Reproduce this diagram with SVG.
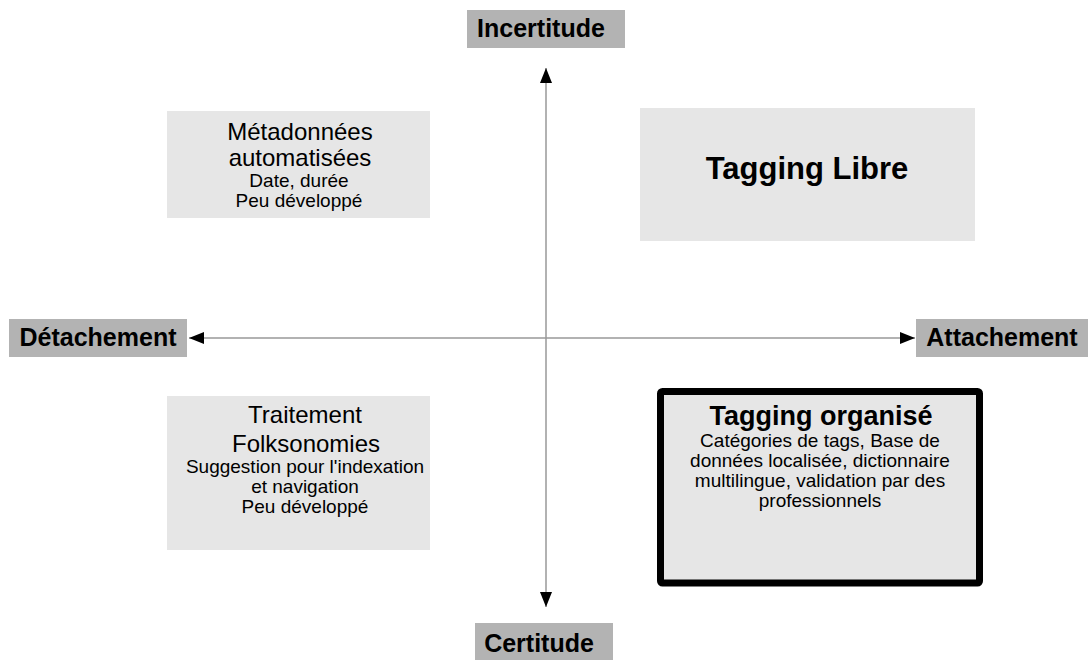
<svg xmlns="http://www.w3.org/2000/svg" width="1088" height="660" viewBox="0 0 1088 660">
<style>
text{font-family:"Liberation Sans",Arial,sans-serif;fill:#000;text-anchor:middle}
.lbl{fill:#b3b3b3}
.box{fill:#e6e6e6}
.ax{font-size:25px;font-weight:bold}
.t{font-size:24px}
.s{font-size:19px}
.axis{stroke:#999;stroke-width:1.5;fill:none}
</style>
<defs>
<marker id="ah" viewBox="0 0 10 10" refX="10" refY="5" markerWidth="15" markerHeight="15" markerUnits="userSpaceOnUse" orient="auto"><path d="M0,1 L10,5 L0,9 z" fill="#000"/></marker>
</defs>
<rect width="1088" height="660" fill="#fff"/>
<g id="connectors">
<line class="axis" x1="546" y1="338" x2="546" y2="68" marker-end="url(#ah)"/>
<line class="axis" x1="546" y1="338" x2="546" y2="607" marker-end="url(#ah)"/>
<line class="axis" x1="546" y1="338" x2="189" y2="338" marker-end="url(#ah)"/>
<line class="axis" x1="546" y1="338" x2="915" y2="338" marker-end="url(#ah)"/>
</g>
<g id="incertitude"><rect class="lbl" x="467" y="10" width="158" height="38"/><text class="ax" x="541" y="37">Incertitude</text></g>
<g id="certitude"><rect class="lbl" x="475" y="623" width="138" height="37"/><text class="ax" x="539" y="652">Certitude</text></g>
<g id="detachement"><rect class="lbl" x="9" y="319" width="178" height="38"/><text class="ax" x="98" y="346">Détachement</text></g>
<g id="attachement"><rect class="lbl" x="916" y="319" width="172" height="38"/><text class="ax" x="1002" y="346">Attachement</text></g>
<g id="metadonnees"><rect class="box" x="167" y="111" width="263" height="107"/>
<text class="t" x="300" y="140">Métadonnées</text>
<text class="t" x="300" y="166">automatisées</text>
<text class="s" x="299" y="187">Date, durée</text>
<text class="s" x="299" y="207">Peu développé</text></g>
<g id="tagging-libre"><rect class="box" x="640" y="108" width="335" height="133"/>
<text x="807" y="179" style="font-size:31px;font-weight:bold">Tagging Libre</text></g>
<g id="traitement"><rect class="box" x="167" y="396" width="263" height="154"/>
<text class="t" x="305" y="423">Traitement</text>
<text class="t" x="306" y="452">Folksonomies</text>
<text class="s" x="305" y="473">Suggestion pour l'indexation</text>
<text class="s" x="305" y="493">et navigation</text>
<text class="s" x="305" y="513">Peu développé</text></g>
<g id="tagging-organise"><rect class="box" x="660.5" y="391.5" width="319" height="191.5" rx="2" stroke="#000" stroke-width="7"/>
<text x="821" y="425" style="font-size:27px;font-weight:bold">Tagging organisé</text>
<text class="s" x="820" y="447">Catégories de tags, Base de</text>
<text class="s" x="820" y="467">données localisée, dictionnaire</text>
<text class="s" x="820" y="487">multilingue, validation par des</text>
<text class="s" x="820" y="507">professionnels</text></g>
</svg>
